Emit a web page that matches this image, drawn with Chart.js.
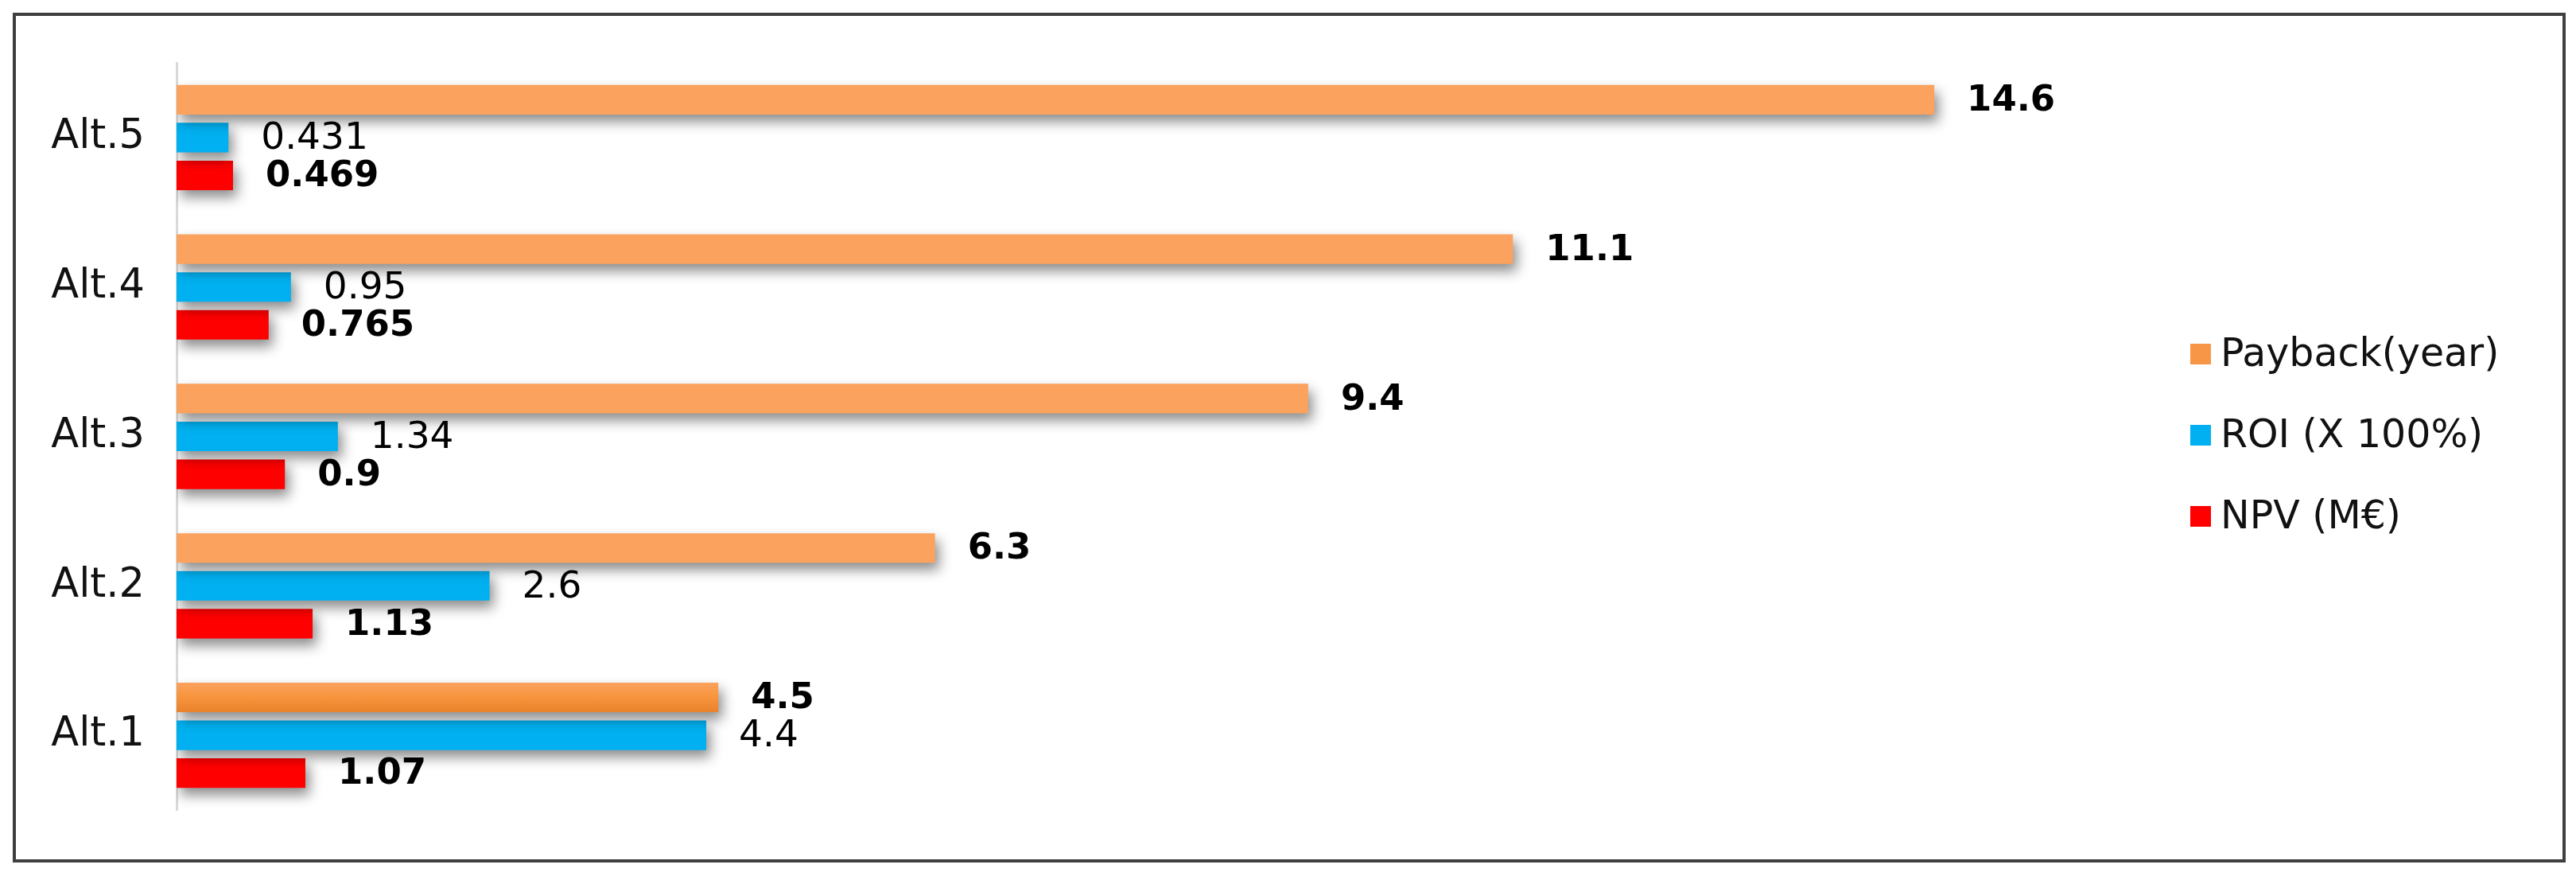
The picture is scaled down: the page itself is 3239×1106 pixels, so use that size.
<!DOCTYPE html>
<html>
<head>
<meta charset="utf-8">
<script src="https://cdn.jsdelivr.net/npm/chart.js@4"></script>
<style>
  html, body { margin: 0; padding: 0; background: #fff; }
  #wrap { position: relative; width: 3239px; height: 1106px; }
  #frame { position: absolute; left: 16px; top: 16px; width: 3202px; height: 1060px;
           border: 4px solid #3f3f3f; pointer-events: none; }
</style>
</head>
<body>
<div id="wrap">
  <canvas id="chart" width="3239" height="1106"></canvas>
  <div id="frame"></div>
</div>
<script>
const categories = ['Alt.5', 'Alt.4', 'Alt.3', 'Alt.2', 'Alt.1'];
const payback = [14.6, 11.1, 9.4, 6.3, 4.5];
const roi = [0.431, 0.95, 1.34, 2.6, 4.4];
const npv = [0.469, 0.765, 0.9, 1.13, 1.07];
const seriesNames = ['Payback(year)', 'ROI (X 100%)', 'NPV (M\u20ac)'];
const seriesColors = ['#F79646', '#00B0F0', '#FF0000'];
const labelBold = [true, false, true];

const FONT = '"DejaVu Sans", sans-serif';

// drop shadow under the bars, orange bars get a soft vertical gradient
const barShadow = {
  id: 'barShadow',
  beforeDatasetsDraw(chart) {
    const ctx = chart.ctx;
    chart.getDatasetMeta(0).data.forEach(bar => {
      const g = ctx.createLinearGradient(0, bar.y - bar.height / 2, 0, bar.y + bar.height / 2);
      g.addColorStop(0, '#FBA25E');
      g.addColorStop(0.5, '#F7943C');
      g.addColorStop(1, '#E8822C');
      bar.options.backgroundColor = g;
    });
    ctx.save();
    ctx.shadowColor = 'rgba(0,0,0,0.45)';
    ctx.shadowBlur = 16;
    ctx.shadowOffsetX = 5;
    ctx.shadowOffsetY = 9;
  },
  afterDatasetsDraw(chart) {
    chart.ctx.restore();
  }
};

const valueLabels = {
  id: 'valueLabels',
  afterDatasetsDraw(chart) {
    const ctx = chart.ctx;
    ctx.save();
    ctx.fillStyle = '#000';
    ctx.textBaseline = 'middle';
    ctx.textAlign = 'left';
    chart.data.datasets.forEach((ds, i) => {
      ctx.font = labelBold[i] ? 'bold 45px ' + FONT : '47px ' + FONT;
      chart.getDatasetMeta(i).data.forEach((bar, j) => {
        ctx.fillText(String(ds.data[j]), bar.x + 41, bar.y + 2);
      });
    });
    ctx.restore();
  }
};

const sideLegend = {
  id: 'sideLegend',
  afterDraw(chart) {
    const ctx = chart.ctx;
    ctx.save();
    ctx.font = '49px ' + FONT;
    ctx.textBaseline = 'middle';
    chart.data.datasets.forEach((ds, i) => {
      const y = 445 + i * 102;
      ctx.fillStyle = seriesColors[i];
      ctx.fillRect(2754, y - 13, 26, 26);
      ctx.fillStyle = '#111';
      ctx.fillText(ds.label, 2792, y + 2);
    });
    ctx.restore();
  }
};

new Chart(document.getElementById('chart'), {
  type: 'bar',
  data: {
    labels: categories,
    datasets: [
      { label: seriesNames[0], data: payback, backgroundColor: seriesColors[0] },
      { label: seriesNames[1], data: roi, backgroundColor: seriesColors[1] },
      { label: seriesNames[2], data: npv, backgroundColor: seriesColors[2] }
    ]
  },
  options: {
    indexAxis: 'y',
    responsive: false,
    animation: false,
    categoryPercentage: 0.76,
    barPercentage: 0.78,
    layout: { padding: { left: 0, right: 595, top: 79, bottom: 88 } },
    plugins: {
      legend: { display: false },
      tooltip: { enabled: false }
    },
    scales: {
      x: {
        display: false,
        min: 0,
        max: 16
      },
      y: {
        afterFit: (scale) => { scale.width = 222; },
        grid: { display: false },
        border: { display: true, color: '#d9d9d9', width: 3 },
        ticks: {
          color: '#111',
          padding: 32,
          font: { family: FONT, size: 51 }
        }
      }
    }
  },
  plugins: [barShadow, valueLabels, sideLegend]
});
</script>
</body>
</html>
